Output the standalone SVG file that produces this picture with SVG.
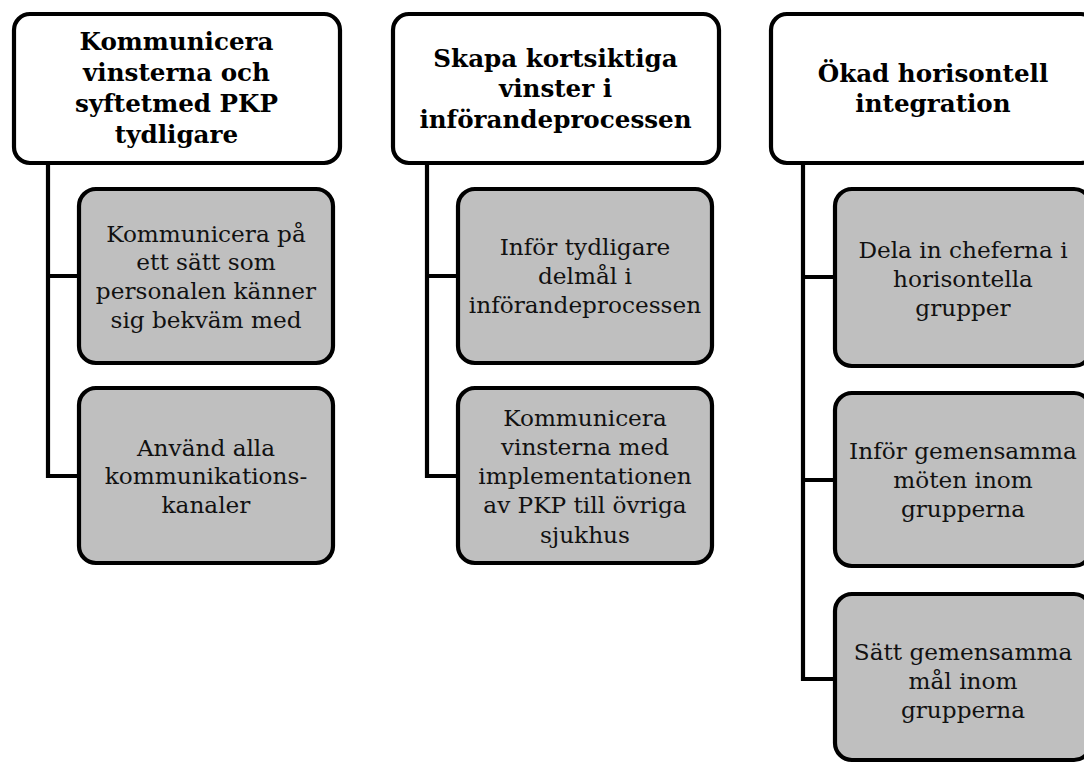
<svg xmlns="http://www.w3.org/2000/svg" width="1084" height="763" viewBox="0 0 1084 763">
  <style>
    .head { fill: #ffffff; stroke: #000000; stroke-width: 4.2; }
    .item { fill: #bfbfbf; stroke: #000000; stroke-width: 4.2; }
    .link { fill: none; stroke: #000000; stroke-width: 4.2; }
    .ht { font-family: "DejaVu Serif", "Liberation Serif", serif; font-weight: bold; font-size: 24.6px; fill: #000000; text-anchor: middle; }
    .it { font-family: "DejaVu Serif", "Liberation Serif", serif; font-size: 23.2px; fill: #111111; text-anchor: middle; }
  </style>
  <rect width="1084" height="763" fill="#ffffff"/>

  <!-- tree connectors -->
  <g id="connectors">
    <path class="link" d="M48,163 V476 H80 M48,276 H80"/>
    <path class="link" d="M427,163 V476 H459 M427,276 H459"/>
    <path class="link" d="M803,163 V679 H836 M803,277 H836 M803,480 H836"/>
  </g>

  <!-- column 1 -->
  <g id="head1">
    <rect class="head" x="14" y="14" width="326" height="149" rx="16"/>
    <text class="ht" x="176.5" y="50">Kommunicera</text>
    <text class="ht" x="176.5" y="81">vinsterna och</text>
    <text class="ht" x="176.5" y="112">syftetmed PKP</text>
    <text class="ht" x="176.5" y="143">tydligare</text>
  </g>
  <g id="item1a">
    <rect class="item" x="79" y="189" width="254" height="174" rx="17"/>
    <text class="it" x="206" y="242">Kommunicera på</text>
    <text class="it" x="206" y="270">ett sätt som</text>
    <text class="it" x="206" y="299">personalen känner</text>
    <text class="it" x="206" y="328">sig bekväm med</text>
  </g>
  <g id="item1b">
    <rect class="item" x="79" y="388" width="254" height="175" rx="17"/>
    <text class="it" x="206" y="456">Använd alla</text>
    <text class="it" x="206" y="484">kommunikations-</text>
    <text class="it" x="206" y="513">kanaler</text>
  </g>

  <!-- column 2 -->
  <g id="head2">
    <rect class="head" x="393" y="14" width="326" height="149" rx="16"/>
    <text class="ht" x="555.5" y="67">Skapa kortsiktiga</text>
    <text class="ht" x="555.5" y="97">vinster i</text>
    <text class="ht" x="555.5" y="128">införandeprocessen</text>
  </g>
  <g id="item2a">
    <rect class="item" x="458" y="189" width="254" height="174" rx="17"/>
    <text class="it" x="585" y="255">Inför tydligare</text>
    <text class="it" x="585" y="284">delmål i</text>
    <text class="it" x="585" y="313">införandeprocessen</text>
  </g>
  <g id="item2b">
    <rect class="item" x="458" y="388" width="254" height="175" rx="17"/>
    <text class="it" x="585" y="426">Kommunicera</text>
    <text class="it" x="585" y="455">vinsterna med</text>
    <text class="it" x="585" y="484">implementationen</text>
    <text class="it" x="585" y="513">av PKP till övriga</text>
    <text class="it" x="585" y="543">sjukhus</text>
  </g>

  <!-- column 3 -->
  <g id="head3">
    <rect class="head" x="771" y="14" width="326" height="149" rx="16"/>
    <text class="ht" x="933" y="82">Ökad horisontell</text>
    <text class="ht" x="933" y="112">integration</text>
  </g>
  <g id="item3a">
    <rect class="item" x="835" y="189" width="256" height="177" rx="17"/>
    <text class="it" x="963" y="258">Dela in cheferna i</text>
    <text class="it" x="963" y="287">horisontella</text>
    <text class="it" x="963" y="316">grupper</text>
  </g>
  <g id="item3b">
    <rect class="item" x="835" y="393" width="256" height="173" rx="17"/>
    <text class="it" x="963" y="459">Inför gemensamma</text>
    <text class="it" x="963" y="488">möten inom</text>
    <text class="it" x="963" y="517">grupperna</text>
  </g>
  <g id="item3c">
    <rect class="item" x="835" y="594" width="256" height="166" rx="17"/>
    <text class="it" x="963" y="660">Sätt gemensamma</text>
    <text class="it" x="963" y="689">mål inom</text>
    <text class="it" x="963" y="718">grupperna</text>
  </g>
</svg>
